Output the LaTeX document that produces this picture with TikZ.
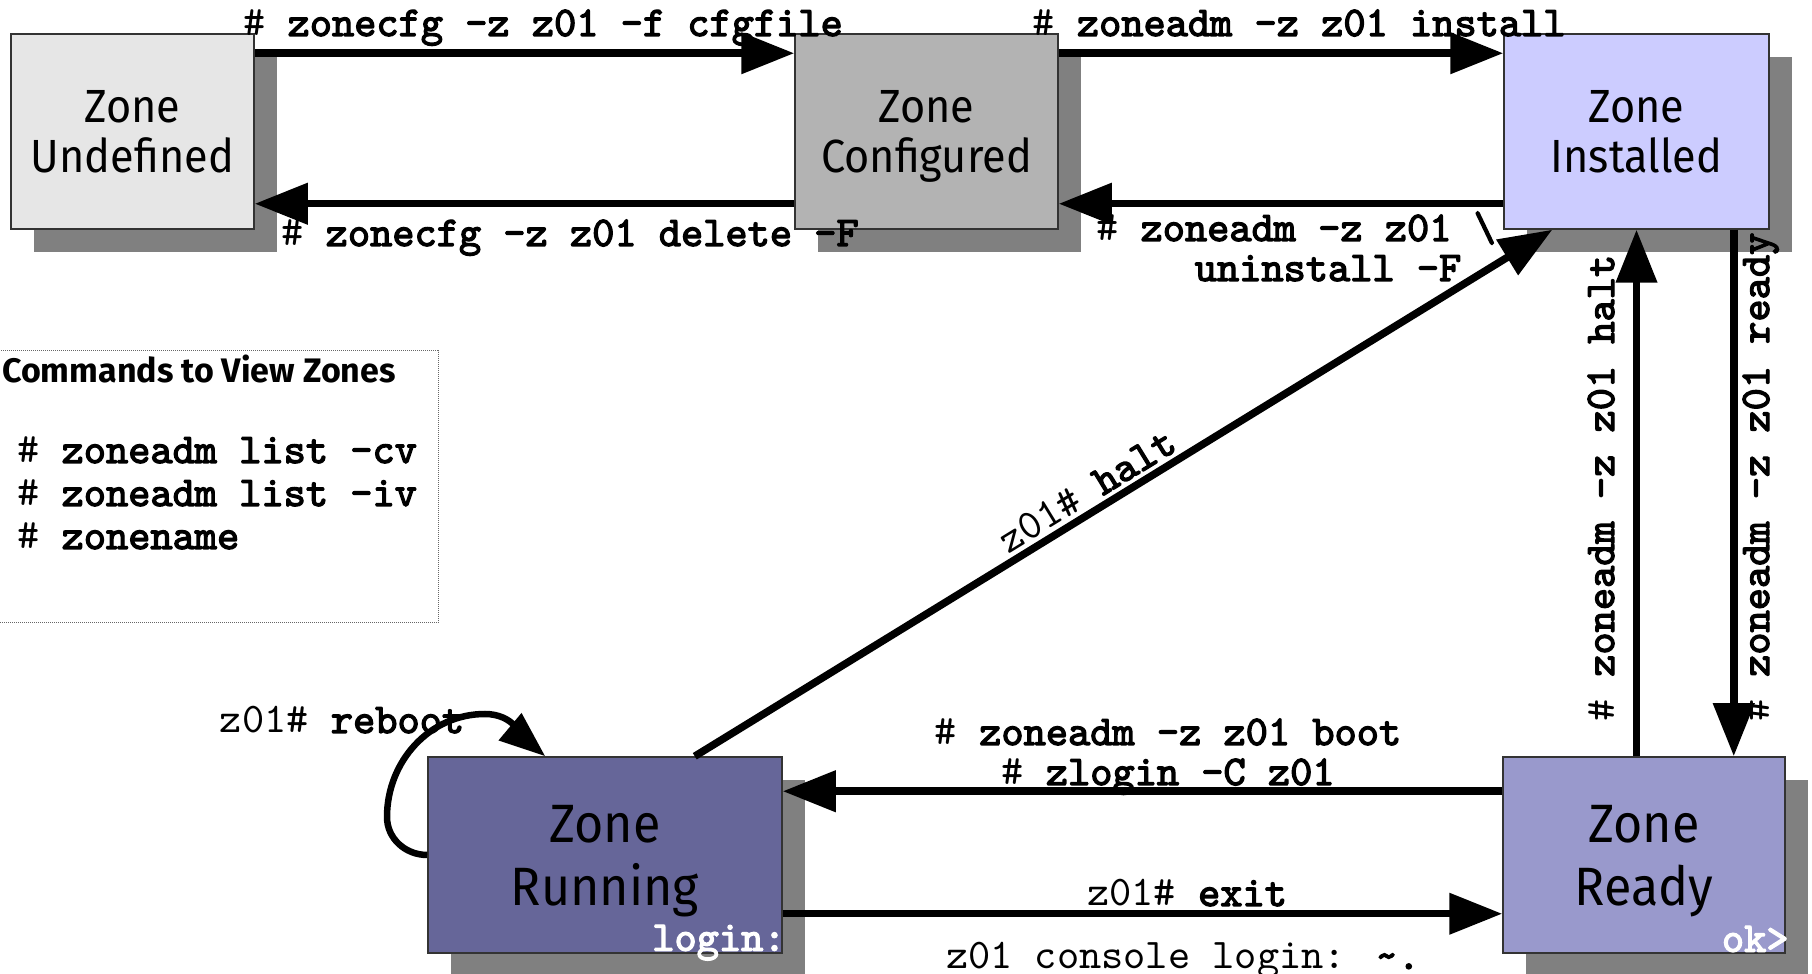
\documentclass[tikz,border=0pt]{standalone}
\usepackage{fontspec}
\usetikzlibrary{arrows.meta,shadows}
\newfontfamily\boxfont{Fira Sans}[FakeStretch=0.93]
\newfontfamily\titlefont{Fira Sans}
\newfontfamily\cmdfont{lmmono10-regular}[Extension=.otf,BoldFont=lmmono10-regular,BoldFeatures={FakeBold=3}]
\definecolor{undefc}{HTML}{E6E6E6}
\definecolor{cfgc}{HTML}{B3B3B3}
\definecolor{instc}{HTML}{CCCCFF}
\definecolor{runc}{HTML}{666699}
\definecolor{readyc}{HTML}{9999CC}
\definecolor{shadowc}{HTML}{808080}
\newcommand{\shcmd}[1]{\#~\textbf{#1}}
\newcommand{\zcmd}[1]{z01\#~\textbf{#1}}

\begin{document}
\begin{tikzpicture}[x=1pt,y=1pt,
    zone/.style={draw=black!80, line width=1.5pt, inner sep=0pt, align=center, text depth=0pt,
      drop shadow={shadow xshift=23pt, shadow yshift=-23pt, fill=shadowc, opacity=1}},
    topzone/.style={zone, minimum height=195pt, font=\boxfont\fontsize{46.5}{50}\selectfont},
    botzone/.style={zone, minimum height=196pt, font=\boxfont\fontsize{54}{63}\selectfont},
    cmd/.style={font=\cmdfont\fontsize{42.3}{44}\selectfont, inner sep=0pt},
    arr/.style={line width=7.5pt, -{Triangle[length=53pt,width=40pt]}}]
    \useasboundingbox (0,0) rectangle (1812,974);
    % zone states
    \node[topzone, fill=undefc, minimum width=243pt] (undef) at (132.5,842.5) {Zone\\Undefined};
    \node[topzone, fill=cfgc, minimum width=263pt] (config) at (926.5,842.5) {Zone\\Configured};
    \node[topzone, fill=instc, minimum width=265pt] (inst) at (1636.5,842.5) {Zone\\Installed};
    \node[botzone, fill=runc, minimum width=354pt] (run) at (605,119) {Zone\\Running};
    \node[botzone, fill=readyc, minimum width=282pt] (ready) at (1644,119) {Zone\\Ready};
    \node[cmd, text=white, anchor=base east] (runprompt) at ([xshift=3pt,yshift=3pt]run.south east) {\textbf{login:}};
    \node[cmd, text=white, anchor=base east] (readyprompt) at ([xshift=3pt,yshift=2pt]ready.south east) {\textbf{ok>}};
    % transitions
    \draw[arr] ([yshift=-20pt]undef.north east) -- ([yshift=-20pt]config.north west);
    \draw[arr] ([yshift=-20pt]config.north east) -- ([yshift=-20pt]inst.north west);
    \draw[arr] ([yshift=26pt]config.south west) -- ([yshift=26pt]undef.south east);
    \draw[arr] ([yshift=26pt]inst.south west) -- ([yshift=26pt]config.south east);
    \draw[arr] ([xshift=-88pt]run.north east) -- node[cmd, sloped, pos=0.47, above=3pt, inner sep=1pt] (haltlbl) {\zcmd{halt}} ([xshift=49pt]inst.south west);
    \draw[arr] (ready.north -| inst.south) -- (inst.south);
    \draw[arr] ([xshift=-36pt]inst.south east) -- ([xshift=-36pt]inst.south east |- ready.north);
    \draw[arr] ([yshift=-35pt]ready.north west) -- ([yshift=-35pt]ready.north west -| run.east);
    \draw[arr] ([yshift=40pt]run.south east) -- ([yshift=40pt]run.south east -| ready.west);
    % reboot loop
    \coordinate (loopleft) at (387,157);
    \coordinate (looptop) at (485,260);
    \draw[line width=6.5pt, -{Triangle[length=46pt,width=34pt]}] (run.west) to[out=180,in=-90] (loopleft)
        to[out=90,in=180] (looptop) to[out=0,in=140] ([xshift=118pt]run.north west);
    % command labels
    \node[cmd, anchor=base] (cfgcmd) at (543,938) {\shcmd{zonecfg -z z01 -f cfgfile}};
    \node[cmd, anchor=base] (instcmd) at (1299,938) {\shcmd{zoneadm -z z01 install}};
    \node[cmd, anchor=base] (delcmd) at (570,728) {\shcmd{zonecfg -z z01 delete -F}};
    \node[cmd, anchor=base] (uninsta) at (1296,733) {\shcmd{zoneadm -z z01 \textbackslash}};
    \node[cmd, anchor=base] (uninstb) at (1328,693) {\textbf{uninstall -F}};
    \node[cmd, anchor=base, rotate=90] (haltcmd) at (1614,486) {\shcmd{zoneadm -z z01 halt}};
    \node[cmd, anchor=base, rotate=90] (readycmd) at (1769,497) {\shcmd{zoneadm -z z01 ready}};
    \node[cmd, anchor=base] (bootcmd) at (1168,229) {\shcmd{zoneadm -z z01 boot}};
    \node[cmd, anchor=base] (logincmd) at (1168,189) {\shcmd{zlogin -C z01}};
    \node[cmd, anchor=base] (exitcmd) at (1187,68) {\zcmd{exit}};
    \node[cmd, anchor=base] (conscmd) at (1183,5) {z01 console login: \textbf{\textasciitilde.}};
    \node[cmd, anchor=base] (rebootcmd) at (342,241) {\zcmd{reboot}};
    % legend
    \draw[densely dotted, line width=1pt, black!60] (-1,351) rectangle (438,623);
    \node[anchor=base west, inner sep=0pt, font=\titlefont\bfseries\fontsize{34}{38}\selectfont] (legtitle) at (2,591) {Commands to View Zones};
    \node[cmd, anchor=base west] (lista) at (17,511) {\shcmd{zoneadm list -cv}};
    \node[cmd, anchor=base west] (listb) at (17,468) {\shcmd{zoneadm list -iv}};
    \node[cmd, anchor=base west] (listc) at (17,425) {\shcmd{zonename}};
\end{tikzpicture}
\end{document}
